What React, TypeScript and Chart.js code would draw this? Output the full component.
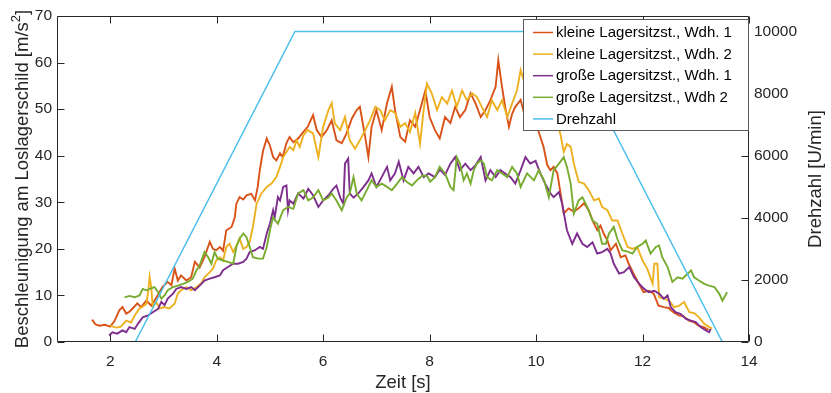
import React, { useEffect, useRef } from "react";
import { Chart, registerables } from "chart.js";

Chart.register(...registerables);

const FONT = '"Liberation Sans", Arial, Helvetica, sans-serif';
const TEXT = "#262626";

const SERIES_NAMES = [
  "kleine Lagersitzst., Wdh. 1",
  "kleine Lagersitzst., Wdh. 2",
  "große Lagersitzst., Wdh. 1",
  "große Lagersitzst., Wdh 2",
  "Drehzahl",
];
const COLORS = ["#D95319", "#EDB120", "#7E2F8E", "#77AC30", "#4DBEEE"];

const X_TITLE = "Zeit [s]";
const Y_TITLE_MAIN = "Beschleunigung am Loslagerschild [m/s";
const Y_TITLE_SUP = "2";
const Y_TITLE_END = "]";
const Y2_TITLE = "Drehzahl [U/min]";

const X_TICKS = [2, 4, 6, 8, 10, 12, 14];
const Y_TICKS = [0, 10, 20, 30, 40, 50, 60, 70];
const R_TICKS = [0, 2000, 4000, 6000, 8000, 10000];

// [Zeit s, Beschleunigung m/s^2]
const kleine1 = [
  [1.66, 4.8], [1.72, 3.8], [1.8, 3.5], [1.9, 3.7], [2.0, 3.3], [2.08, 4.5], [2.17, 6.8], [2.23, 7.5],
  [2.3, 6.1], [2.36, 6.5], [2.42, 7.2], [2.51, 8.3], [2.58, 7.5], [2.68, 8.9], [2.77, 7.8], [2.89, 10.0],
  [2.98, 11.8], [3.08, 12.9], [3.15, 12.2], [3.21, 15.8], [3.27, 13.2], [3.33, 14.3], [3.43, 13.2], [3.52, 13.9],
  [3.59, 17.2], [3.68, 16.0], [3.77, 18.2], [3.87, 21.5], [3.93, 20.0], [3.99, 19.7], [4.06, 20.4], [4.12, 19.6],
  [4.18, 24.0], [4.28, 24.7], [4.34, 26.8], [4.37, 29.7], [4.43, 31.1], [4.5, 30.6], [4.56, 31.5], [4.65, 31.8],
  [4.72, 30.4], [4.77, 33.3], [4.81, 36.9], [4.87, 41.0], [4.94, 43.7], [5.0, 42.2], [5.06, 39.7], [5.12, 39.0],
  [5.19, 40.5], [5.24, 39.7], [5.31, 42.7], [5.37, 44.0], [5.44, 42.9], [5.53, 43.7], [5.62, 45.0], [5.71, 46.2],
  [5.81, 48.7], [5.88, 45.5], [5.97, 44.0], [6.07, 45.5], [6.16, 47.6], [6.25, 43.3], [6.35, 42.7], [6.44, 44.8],
  [6.54, 48.0], [6.63, 49.8], [6.69, 50.5], [6.79, 44.0], [6.85, 39.7], [6.91, 46.2], [7.0, 49.8], [7.1, 45.5],
  [7.2, 51.3], [7.29, 54.8], [7.35, 49.8], [7.45, 44.0], [7.54, 43.0], [7.63, 47.6], [7.73, 46.2], [7.82, 49.8],
  [7.92, 54.0], [8.0, 48.3], [8.1, 45.5], [8.19, 43.7], [8.29, 48.3], [8.39, 47.0], [8.48, 50.5], [8.57, 48.3],
  [8.67, 49.8], [8.77, 53.4], [8.86, 51.3], [8.96, 48.3], [9.05, 49.8], [9.14, 51.9], [9.24, 54.8], [9.29, 60.5],
  [9.36, 54.8], [9.42, 50.5], [9.49, 46.2], [9.55, 49.0], [9.61, 50.5], [9.71, 52.0], [9.8, 48.0], [9.9, 51.0],
  [9.98, 47.5], [10.05, 45.1], [10.14, 41.9], [10.21, 38.0], [10.27, 36.9], [10.33, 37.6], [10.4, 36.2], [10.46, 31.9],
  [10.52, 27.6], [10.61, 28.7], [10.71, 28.0], [10.8, 28.7], [10.9, 29.8], [10.99, 28.3], [11.06, 26.1], [11.15, 24.0],
  [11.21, 25.0], [11.27, 23.3], [11.34, 21.8], [11.4, 19.7], [11.5, 21.1], [11.59, 18.2], [11.68, 18.6], [11.74, 16.8],
  [11.83, 14.7], [11.93, 12.5], [12.02, 10.7], [12.12, 11.0], [12.21, 10.4], [12.3, 7.8], [12.4, 7.5], [12.49, 7.3],
  [12.58, 6.4], [12.68, 5.7], [12.77, 5.5], [12.87, 4.6], [12.96, 4.3], [13.05, 3.5], [13.15, 3.2], [13.24, 2.6],
];

const kleine2 = [
  [2.0, 3.5], [2.05, 3.3], [2.12, 3.1], [2.2, 3.3], [2.3, 4.6], [2.39, 4.2], [2.46, 5.7], [2.55, 7.2],
  [2.61, 7.6], [2.68, 8.2], [2.72, 11.5], [2.74, 14.0], [2.77, 11.8], [2.8, 7.5], [2.86, 8.6], [2.93, 7.2],
  [3.02, 7.5], [3.11, 7.2], [3.21, 8.2], [3.27, 10.4], [3.33, 11.1], [3.43, 11.8], [3.52, 11.1], [3.62, 11.8],
  [3.71, 12.6], [3.77, 13.9], [3.87, 15.0], [3.93, 15.8], [3.99, 17.5], [4.06, 18.2], [4.12, 17.5], [4.18, 20.4],
  [4.24, 21.1], [4.31, 19.3], [4.37, 20.7], [4.43, 22.2], [4.5, 20.0], [4.56, 20.4], [4.62, 21.5], [4.68, 24.7],
  [4.75, 29.7], [4.84, 31.9], [4.94, 33.3], [5.03, 34.0], [5.12, 35.4], [5.19, 37.6], [5.25, 39.7], [5.31, 40.8],
  [5.37, 41.9], [5.44, 41.2], [5.5, 43.3], [5.56, 41.9], [5.63, 44.4], [5.71, 45.5], [5.81, 44.8], [5.91, 39.7],
  [6.0, 46.2], [6.1, 49.8], [6.16, 51.3], [6.22, 46.9], [6.32, 45.5], [6.41, 48.3], [6.5, 43.3], [6.6, 41.5],
  [6.69, 43.3], [6.79, 45.5], [6.88, 47.6], [6.98, 50.5], [7.07, 49.8], [7.16, 47.6], [7.26, 49.8], [7.35, 49.2],
  [7.45, 46.2], [7.54, 47.0], [7.63, 45.1], [7.73, 49.2], [7.82, 42.6], [7.88, 49.0], [7.95, 55.5], [8.04, 53.4],
  [8.14, 49.8], [8.23, 52.6], [8.33, 51.2], [8.42, 54.0], [8.51, 50.5], [8.61, 54.0], [8.7, 51.9], [8.8, 53.4],
  [8.89, 52.6], [8.98, 50.5], [9.08, 48.3], [9.17, 51.9], [9.27, 49.8], [9.36, 51.9], [9.46, 48.3], [9.55, 51.2],
  [9.64, 54.0], [9.71, 58.4], [9.8, 55.0], [9.9, 52.0], [10.0, 54.0], [10.1, 51.0], [10.2, 53.0], [10.3, 49.0],
  [10.4, 47.0], [10.46, 44.5], [10.52, 40.8], [10.58, 42.5], [10.65, 41.9], [10.71, 38.3], [10.8, 34.4], [10.9, 34.0],
  [10.99, 32.6], [11.09, 30.4], [11.18, 30.8], [11.24, 29.0], [11.34, 28.3], [11.43, 26.1], [11.53, 26.1], [11.62, 23.3],
  [11.72, 20.4], [11.81, 20.0], [11.9, 20.4], [12.0, 17.5], [12.09, 15.7], [12.19, 12.5], [12.22, 16.8], [12.28, 16.8],
  [12.31, 9.6], [12.4, 9.3], [12.5, 8.9], [12.59, 7.5], [12.69, 7.8], [12.78, 8.6], [12.88, 6.4], [12.97, 6.2],
  [13.06, 5.3], [13.16, 3.9], [13.25, 3.2], [13.31, 2.9],
];

const grosse1 = [
  [1.98, 1.4], [2.04, 2.1], [2.13, 1.8], [2.23, 2.5], [2.3, 2.1], [2.36, 3.2], [2.46, 2.8], [2.52, 3.9],
  [2.61, 5.3], [2.71, 5.7], [2.8, 6.4], [2.9, 7.1], [2.96, 8.6], [3.02, 7.9], [3.08, 9.3], [3.18, 10.4],
  [3.24, 11.4], [3.33, 11.8], [3.43, 11.4], [3.52, 11.8], [3.59, 11.1], [3.68, 12.1], [3.77, 13.2], [3.87, 13.6],
  [3.96, 13.9], [4.06, 14.3], [4.12, 15.4], [4.21, 16.1], [4.31, 16.8], [4.4, 16.8], [4.5, 17.2], [4.56, 17.9],
  [4.62, 19.3], [4.72, 19.7], [4.81, 20.4], [4.87, 20.0], [4.94, 23.3], [5.0, 25.4], [5.06, 28.3], [5.09, 26.8],
  [5.15, 31.1], [5.19, 30.4], [5.25, 33.3], [5.31, 33.6], [5.34, 28.3], [5.37, 30.4], [5.44, 29.7], [5.53, 31.9],
  [5.63, 30.8], [5.72, 32.9], [5.81, 31.5], [5.91, 29.0], [6.0, 30.4], [6.1, 31.5], [6.19, 32.9], [6.25, 33.6],
  [6.32, 31.0], [6.38, 29.7], [6.41, 38.3], [6.47, 39.4], [6.5, 31.9], [6.57, 31.0], [6.66, 31.9], [6.76, 33.3],
  [6.85, 34.7], [6.91, 36.2], [7.0, 33.3], [7.1, 35.4], [7.2, 37.6], [7.26, 34.7], [7.35, 36.2], [7.42, 38.7],
  [7.51, 34.7], [7.6, 37.6], [7.7, 36.2], [7.79, 37.6], [7.89, 35.4], [7.98, 36.2], [8.1, 35.4], [8.19, 37.0],
  [8.29, 35.9], [8.39, 38.3], [8.48, 39.7], [8.57, 36.9], [8.67, 38.3], [8.77, 36.9], [8.86, 37.9], [8.96, 39.7],
  [9.05, 34.7], [9.14, 36.9], [9.24, 35.4], [9.33, 36.9], [9.42, 36.2], [9.52, 35.4], [9.61, 34.0], [9.71, 36.9],
  [9.8, 39.7], [9.89, 38.3], [9.99, 38.9], [10.08, 36.2], [10.17, 34.0], [10.27, 31.9], [10.33, 31.1], [10.43, 32.2],
  [10.49, 29.7], [10.58, 24.0], [10.68, 21.1], [10.77, 23.3], [10.87, 21.1], [10.96, 20.4], [11.06, 21.4], [11.15, 19.0],
  [11.24, 19.3], [11.34, 20.0], [11.4, 19.0], [11.46, 16.8], [11.56, 14.7], [11.65, 15.0], [11.75, 16.1], [11.84, 13.9],
  [11.94, 12.5], [12.03, 11.4], [12.12, 10.7], [12.22, 11.0], [12.31, 10.4], [12.4, 9.3], [12.47, 10.0], [12.53, 7.5],
  [12.62, 6.4], [12.72, 6.0], [12.81, 5.0], [12.91, 4.6], [13.0, 4.3], [13.09, 3.2], [13.19, 2.5], [13.25, 2.1],
  [13.28, 2.8],
];

const grosse2 = [
  [2.27, 9.6], [2.36, 9.9], [2.46, 9.6], [2.55, 10.0], [2.61, 11.4], [2.68, 11.1], [2.74, 11.4], [2.83, 11.8],
  [2.9, 10.7], [2.96, 9.3], [3.02, 10.0], [3.08, 11.1], [3.18, 11.8], [3.27, 12.1], [3.37, 12.5], [3.46, 12.9],
  [3.55, 13.6], [3.62, 15.4], [3.68, 16.4], [3.77, 19.3], [3.84, 18.2], [3.9, 16.8], [3.96, 19.3], [4.02, 17.9],
  [4.12, 17.5], [4.21, 17.2], [4.31, 16.8], [4.37, 20.4], [4.43, 22.2], [4.5, 23.3], [4.56, 22.5], [4.62, 20.4],
  [4.68, 18.2], [4.78, 17.9], [4.87, 17.9], [4.94, 20.4], [5.0, 24.0], [5.06, 26.8], [5.15, 25.4], [5.25, 28.3],
  [5.34, 29.0], [5.44, 28.6], [5.53, 31.9], [5.63, 32.6], [5.72, 30.4], [5.81, 31.0], [5.91, 32.6], [6.0, 30.4],
  [6.1, 31.0], [6.16, 31.9], [6.25, 30.4], [6.35, 28.3], [6.44, 31.0], [6.5, 31.9], [6.57, 35.4], [6.63, 31.9],
  [6.72, 30.4], [6.82, 32.6], [6.91, 34.7], [7.0, 33.3], [7.1, 34.0], [7.2, 33.3], [7.29, 32.6], [7.39, 34.0],
  [7.48, 35.4], [7.58, 34.3], [7.67, 33.6], [7.76, 34.7], [7.86, 35.7], [7.95, 35.7], [8.01, 34.4], [8.1, 35.4],
  [8.19, 37.6], [8.29, 36.2], [8.39, 33.3], [8.45, 32.6], [8.51, 39.7], [8.57, 38.3], [8.64, 34.7], [8.7, 36.2],
  [8.77, 34.0], [8.83, 36.9], [8.89, 38.3], [8.96, 39.0], [9.02, 38.3], [9.08, 35.4], [9.17, 34.7], [9.27, 36.9],
  [9.36, 36.2], [9.46, 35.4], [9.55, 37.6], [9.64, 36.2], [9.71, 33.3], [9.83, 36.2], [9.96, 34.7], [10.05, 36.9],
  [10.15, 34.7], [10.24, 31.1], [10.33, 36.9], [10.43, 38.3], [10.52, 39.7], [10.58, 37.6], [10.65, 34.0], [10.71, 27.6],
  [10.8, 30.4], [10.87, 31.1], [10.96, 29.0], [11.06, 26.1], [11.15, 25.4], [11.24, 21.1], [11.31, 21.1], [11.37, 23.3],
  [11.46, 24.7], [11.53, 22.0], [11.62, 19.7], [11.72, 19.4], [11.81, 19.0], [11.9, 20.4], [12.0, 21.1], [12.06, 21.8],
  [12.15, 19.0], [12.25, 20.4], [12.31, 20.7], [12.37, 18.2], [12.47, 16.1], [12.56, 12.9], [12.66, 13.9], [12.75, 13.6],
  [12.85, 14.7], [12.91, 15.4], [12.97, 13.9], [13.06, 13.2], [13.16, 12.5], [13.25, 12.1], [13.35, 11.8], [13.44, 10.4],
  [13.5, 8.9], [13.59, 10.7],
];

// [Zeit s, Drehzahl U/min]
const drehzahl = [
  [2.27, 0], [2.47, 0], [5.47, 10000], [10.5, 10000], [13.5, 0],
];

const SERIES = [kleine1, kleine2, grosse1, grosse2];

const framePlugin = {
  id: "matlabFrame",
  afterDatasetsDraw(chart: any) {
    const ctx = chart.ctx as CanvasRenderingContext2D;
    const { left, right, top, bottom } = chart.chartArea;
    const xs = chart.scales.x;
    const ys = chart.scales.y;
    const rs = chart.scales.y1;
    const L = Math.round(left) + 0.5;
    const R = Math.round(right) - 0.5;
    const T = Math.round(top) + 0.5;
    const B = Math.round(bottom) - 0.5;
    ctx.save();
    ctx.strokeStyle = TEXT;
    ctx.lineWidth = 1;
    ctx.beginPath();
    ctx.rect(L, T, R - L, B - T);
    const TL = 7;
    X_TICKS.forEach((v) => {
      const px = Math.round(xs.getPixelForValue(v)) + 0.5;
      ctx.moveTo(px, B);
      ctx.lineTo(px, B - TL);
      ctx.moveTo(px, T);
      ctx.lineTo(px, T + TL);
    });
    Y_TICKS.forEach((v) => {
      const py = Math.round(ys.getPixelForValue(v)) + 0.5;
      ctx.moveTo(L, py);
      ctx.lineTo(L + TL, py);
    });
    R_TICKS.forEach((v) => {
      const py = Math.round(rs.getPixelForValue(v)) + 0.5;
      ctx.moveTo(R, py);
      ctx.lineTo(R - TL, py);
    });
    ctx.stroke();

    // axis titles
    ctx.fillStyle = TEXT;
    ctx.textBaseline = "middle";
    ctx.textAlign = "center";
    ctx.font = `18.5px ${FONT}`;
    ctx.fillText(X_TITLE, (left + right) / 2, 383);

    ctx.save();
    ctx.translate(815.5, (top + bottom) / 2);
    ctx.rotate(-Math.PI / 2);
    ctx.fillText(Y2_TITLE, 0, 0);
    ctx.restore();

    ctx.save();
    ctx.translate(22, (top + bottom) / 2);
    ctx.rotate(-Math.PI / 2);
    ctx.textAlign = "left";
    ctx.font = `18.5px ${FONT}`;
    const w1 = ctx.measureText(Y_TITLE_MAIN).width;
    const w3 = ctx.measureText(Y_TITLE_END).width;
    ctx.font = `13px ${FONT}`;
    const w2 = ctx.measureText(Y_TITLE_SUP).width;
    const x0 = -(w1 + w2 + w3) / 2;
    ctx.font = `18.5px ${FONT}`;
    ctx.fillText(Y_TITLE_MAIN, x0, 1);
    ctx.fillText(Y_TITLE_END, x0 + w1 + w2, 1);
    ctx.font = `13px ${FONT}`;
    ctx.fillText(Y_TITLE_SUP, x0 + w1, -6);
    ctx.restore();

    // legend
    const lx = 523.5, ly = 19.5, lw = 225, lh = 111;
    ctx.fillStyle = "#ffffff";
    ctx.fillRect(lx, ly, lw, lh);
    ctx.strokeStyle = "#5a5a5a";
    ctx.lineWidth = 1;
    ctx.strokeRect(lx, ly, lw, lh);
    ctx.font = `15px ${FONT}`;
    ctx.textAlign = "left";
    ctx.textBaseline = "middle";
    SERIES_NAMES.forEach((name, i) => {
      const y = 32.5 + i * 21.6;
      ctx.strokeStyle = COLORS[i];
      ctx.lineWidth = 1.5;
      ctx.beginPath();
      ctx.moveTo(533, y);
      ctx.lineTo(553, y);
      ctx.stroke();
      ctx.fillStyle = "#000000";
      ctx.fillText(name, 556, y + 0.5);
    });
    ctx.restore();
  },
};

export default function App() {
  const ref = useRef<HTMLCanvasElement>(null);
  useEffect(() => {
    const toPts = (a: number[][]) => a.map(([x, y]) => ({ x, y }));
    const tickFont = { family: FONT, size: 15.5 };
    const plain = (v: any) => String(v);
    const datasets: any[] = [
      {
        label: SERIES_NAMES[4],
        data: toPts(drehzahl),
        yAxisID: "y1",
        borderColor: COLORS[4],
        borderWidth: 1.5,
        pointRadius: 0,
        order: 0,
      },
    ];
    SERIES.forEach((s, i) => {
      datasets.push({
        label: SERIES_NAMES[i],
        data: toPts(s),
        yAxisID: "y",
        borderColor: COLORS[i],
        borderWidth: 1.9,
        borderJoinStyle: "miter",
        pointRadius: 0,
        order: 4 - i,
      });
    });
    const chart = new Chart(ref.current as HTMLCanvasElement, {
      type: "line",
      data: { datasets },
      options: {
        responsive: false,
        animation: false,
        devicePixelRatio: 1,
        layout: { padding: { top: 16, left: 0, right: 0, bottom: 0 } },
        plugins: { legend: { display: false }, tooltip: { enabled: false } },
        elements: { line: { tension: 0 } },
        scales: {
          x: {
            type: "linear",
            min: 1,
            max: 14,
            afterBuildTicks: (s: any) => {
              s.ticks = X_TICKS.map((v) => ({ value: v }));
            },
            afterFit: (s: any) => {
              s.height = 51;
            },
            grid: { display: false, drawTicks: false },
            border: { display: false },
            ticks: { font: tickFont, color: TEXT, padding: 10, maxRotation: 0, autoSkip: false, callback: plain },
          },
          y: {
            position: "left",
            min: 0,
            max: 70,
            afterBuildTicks: (s: any) => {
              s.ticks = Y_TICKS.map((v) => ({ value: v }));
            },
            afterFit: (s: any) => {
              s.width = 57;
            },
            grid: { display: false, drawTicks: false },
            border: { display: false },
            ticks: { font: tickFont, color: TEXT, padding: 5, autoSkip: false, callback: plain },
          },
          y1: {
            position: "right",
            min: 0,
            max: 10500,
            afterBuildTicks: (s: any) => {
              s.ticks = R_TICKS.map((v) => ({ value: v }));
            },
            afterFit: (s: any) => {
              s.width = 82;
            },
            grid: { display: false, drawTicks: false },
            border: { display: false },
            ticks: { font: tickFont, color: TEXT, padding: 5, autoSkip: false, callback: plain },
          },
        },
      } as any,
      plugins: [framePlugin],
    });
    return () => chart.destroy();
  }, []);
  return (
    <div style={{ position: "absolute", left: 0, top: 0, width: 831, height: 393, background: "#fff" }}>
      <canvas ref={ref} width={831} height={393} style={{ display: "block" }} />
    </div>
  );
}
